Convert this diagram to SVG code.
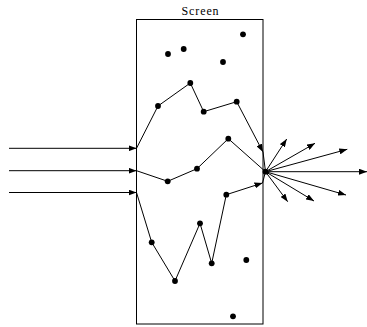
<svg xmlns="http://www.w3.org/2000/svg" width="367" height="327" viewBox="0 0 367 327">
<style>
.ln{stroke:#000;stroke-width:1;fill:none}
.ar{stroke:#000;stroke-width:1;fill:none;marker-end:url(#ah)}
.dot{fill:#000}
.lbl{font-family:"Liberation Serif",serif;font-size:12px;letter-spacing:0.9px;fill:#000}
</style>
<defs>
<marker id="ah" markerUnits="userSpaceOnUse" markerWidth="8" markerHeight="6" refX="8" refY="3" orient="auto">
<path d="M0,0 L8,3 L0,6 z" fill="#000"/>
</marker>
</defs>
<rect width="367" height="327" fill="#fff"/>
<g id="screen">
<rect x="136.5" y="19.5" width="126.5" height="304.5" class="ln"/>
<text x="200.5" y="15" text-anchor="middle" class="lbl">Screen</text>
</g>
<g id="dots">
<circle cx="168" cy="54" r="2.9" class="dot"/>
<circle cx="183.7" cy="49" r="2.9" class="dot"/>
<circle cx="243" cy="34.3" r="2.9" class="dot"/>
<circle cx="223" cy="62" r="2.9" class="dot"/>
<circle cx="190.3" cy="83" r="2.9" class="dot"/>
<circle cx="158" cy="106" r="2.9" class="dot"/>
<circle cx="203.7" cy="111.7" r="2.9" class="dot"/>
<circle cx="236.7" cy="101.7" r="2.9" class="dot"/>
<circle cx="228.3" cy="138.7" r="2.9" class="dot"/>
<circle cx="197" cy="168.7" r="2.9" class="dot"/>
<circle cx="167.7" cy="181.3" r="2.9" class="dot"/>
<circle cx="226.3" cy="194.7" r="2.9" class="dot"/>
<circle cx="151.7" cy="242.3" r="2.9" class="dot"/>
<circle cx="175" cy="281" r="2.9" class="dot"/>
<circle cx="200" cy="223.3" r="2.9" class="dot"/>
<circle cx="211.7" cy="263.3" r="2.9" class="dot"/>
<circle cx="246.3" cy="260" r="2.9" class="dot"/>
<circle cx="233" cy="316.3" r="2.9" class="dot"/>
<circle cx="265.5" cy="171.7" r="2.9" class="dot"/>
</g>
<g id="connectors">
<line x1="9" y1="148.3" x2="136.5" y2="148.3" class="ar"/>
<line x1="9" y1="170.7" x2="136.5" y2="170.7" class="ar"/>
<line x1="9" y1="192.5" x2="136.5" y2="192.5" class="ar"/>
<polyline points="136.5,148.3 158,106 190.3,83 203.7,111.7 236.7,101.7 263,152" class="ar"/>
<line x1="263" y1="152" x2="265.5" y2="171.7" class="ln"/>
<polyline points="136.5,170.7 167.7,181.3 197,168.7 228.3,138.7 265.5,171.7" class="ln"/>
<polyline points="136.5,192.5 151.7,242.3 175,281 200,223.3 211.7,263.3 226.3,194.7 262.5,183" class="ar"/>
<line x1="262.5" y1="183" x2="265.5" y2="171.7" class="ln"/>
<line x1="265.5" y1="171.7" x2="286.7" y2="139" class="ar"/>
<line x1="265.5" y1="171.7" x2="315" y2="143.3" class="ar"/>
<line x1="265.5" y1="171.7" x2="347.3" y2="149.3" class="ar"/>
<line x1="265.5" y1="171.7" x2="367" y2="171.7" class="ar"/>
<line x1="265.5" y1="171.7" x2="346" y2="195" class="ar"/>
<line x1="265.5" y1="171.7" x2="314" y2="201" class="ar"/>
<line x1="265.5" y1="171.7" x2="287.7" y2="201.7" class="ar"/>
</g>
</svg>
